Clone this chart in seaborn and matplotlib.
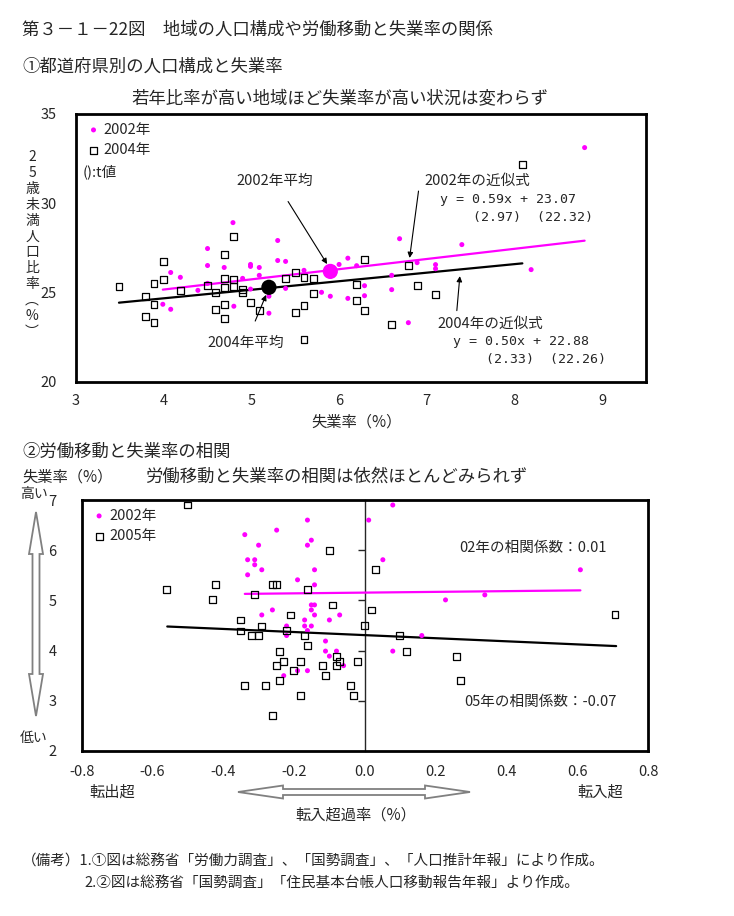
import matplotlib
matplotlib.use("Agg")
import matplotlib.pyplot as plt
from matplotlib.patches import Polygon
from matplotlib.ticker import FormatStrFormatter
import pandas as pd
import seaborn as sns

sns.set_style("white")
plt.rcParams['font.family'] = ['Noto Sans CJK JP', 'DejaVu Sans']
plt.rcParams['axes.unicode_minus'] = False

MAGENTA = '#FF00FF'
W, H = 734, 916

# ---- chart 1: unemployment rate vs. share of population under 25 ----
unemp_2002 = [4.79, 4.50, 5.30, 4.50, 4.69, 4.99, 4.99, 5.09, 5.30, 5.39, 4.08, 4.19,
              4.90, 5.09, 5.60, 6.00, 6.10, 4.39, 4.50, 5.20, 5.39, 5.80, 5.90, 6.10,
              3.99, 4.08, 4.80, 5.20, 4.99, 8.80, 6.69, 7.40, 6.20, 6.89, 7.10, 7.10,
              8.19, 6.60, 6.29, 6.60, 6.29, 6.79]
young_2002 = [28.92, 27.47, 27.92, 26.52, 26.41, 26.58, 26.47, 26.41, 26.80, 26.75, 26.13, 25.86,
              25.80, 25.97, 26.25, 26.58, 26.93, 25.13, 25.52, 24.80, 25.24, 25.02, 24.80, 24.68,
              24.35, 24.07, 24.24, 23.85, 25.20, 33.12, 28.02, 27.69, 26.51, 26.68, 26.57, 26.34,
              26.29, 25.97, 25.39, 25.17, 24.83, 23.32]
unemp_2004 = [3.49, 4.00, 3.89, 4.00, 3.79, 3.89, 3.79, 3.89, 4.19, 4.50, 4.59, 4.69,
              4.80, 4.69, 4.80, 4.69, 4.80, 4.90, 4.90, 4.59, 4.69, 4.69, 4.99, 5.09,
              5.39, 5.50, 5.60, 5.71, 5.71, 5.50, 5.60, 5.60, 8.09, 6.29, 6.79, 6.20,
              6.89, 6.20, 6.29, 7.10, 6.60]
young_2004 = [25.35, 26.75, 25.52, 25.74, 24.80, 24.35, 23.68, 23.35, 25.11, 25.41, 25.02, 27.14,
              28.14, 25.80, 25.74, 25.30, 25.35, 25.19, 25.02, 24.07, 24.35, 23.57, 24.46, 24.01,
              25.80, 26.13, 25.86, 25.80, 24.96, 23.90, 24.29, 22.40, 32.16, 26.85, 26.51, 25.45,
              25.39, 24.55, 23.99, 24.89, 23.21]
mean_2002 = (5.90, 26.19)
mean_2004 = (5.20, 25.30)
fit_2002_x, fit_2002_y = [3.99, 8.80], [25.17, 27.91]
fit_2004_x, fit_2004_y = [3.49, 8.09], [24.44, 26.64]

# ---- chart 2: net migration rate vs. unemployment rate ----
mig_2002 = [-0.162, -0.339, -0.249, -0.162, -0.151, -0.300, -0.331, -0.311, -0.311, -0.291,
            -0.142, -0.331, -0.190, -0.142, -0.151, -0.142, -0.151, -0.261, -0.291, -0.142,
            -0.071, -0.170, -0.100, -0.221, -0.170, -0.151, -0.162, -0.221, -0.111, -0.111,
            -0.080, -0.100, -0.060, -0.190, -0.162, -0.229, 0.011, 0.079, 0.051, 0.609,
            0.228, 0.339, 0.161, 0.079]
ur_2002 = [6.60, 6.31, 6.40, 6.10, 6.20, 6.10, 5.81, 5.81, 5.71, 5.61,
           5.61, 5.51, 5.41, 5.31, 4.91, 4.91, 4.81, 4.81, 4.71, 4.71,
           4.71, 4.61, 4.61, 4.49, 4.49, 4.49, 4.40, 4.30, 4.19, 3.99,
           3.99, 3.89, 3.70, 3.60, 3.60, 3.50, 6.60, 6.90, 5.81, 5.61,
           5.01, 5.11, 4.30, 3.99]
mig_2005 = [-0.500, -0.099, -0.560, -0.422, -0.430, -0.261, -0.249, -0.162, -0.311, -0.091,
            -0.210, -0.350, -0.291, -0.350, -0.221, -0.320, -0.300, -0.170, -0.162, -0.241,
            -0.229, -0.182, -0.249, -0.119, -0.080, -0.071, -0.080, -0.021, -0.201, -0.111,
            -0.241, -0.339, -0.280, -0.040, -0.182, -0.032, -0.261, 0.000, 0.030, 0.019,
            0.099, 0.118, 0.259, 0.270, 0.707]
ur_2005 = [6.90, 6.00, 5.21, 5.31, 5.01, 5.31, 5.31, 5.21, 5.11, 4.91,
           4.71, 4.61, 4.49, 4.39, 4.40, 4.30, 4.30, 4.30, 4.10, 3.99,
           3.79, 3.79, 3.70, 3.70, 3.89, 3.79, 3.70, 3.79, 3.60, 3.50,
           3.40, 3.30, 3.30, 3.30, 3.10, 3.10, 2.70, 4.50, 5.61, 4.81,
           4.30, 3.99, 3.89, 3.40, 4.72]
fit_02_x, fit_02_y = [-0.339, 0.609], [5.13, 5.20]
fit_05_x, fit_05_y = [-0.558, 0.710], [4.48, 4.09]

df1_02 = pd.DataFrame({'x': unemp_2002, 'y': young_2002})
df1_04 = pd.DataFrame({'x': unemp_2004, 'y': young_2004})
df2_02 = pd.DataFrame({'x': mig_2002, 'y': ur_2002})
df2_05 = pd.DataFrame({'x': mig_2005, 'y': ur_2005})

fig = plt.figure(figsize=(W / 100, H / 100), dpi=100)


def fpos(x, y):
    return x / W, 1 - y / H


def ftext(x, y, s, size=11, **kw):
    fig.text(*fpos(x, y), s, fontsize=size, va='center', **kw)


def hollow_arrow(x0, y0, x1, y1, head_len, head_w, shaft_w):
    # double-headed outline arrow, in figure pixels
    if y0 == y1:
        pts = [(x0, y0), (x0 + head_len, y0 - head_w), (x0 + head_len, y0 - shaft_w),
               (x1 - head_len, y0 - shaft_w), (x1 - head_len, y0 - head_w), (x1, y0),
               (x1 - head_len, y0 + head_w), (x1 - head_len, y0 + shaft_w),
               (x0 + head_len, y0 + shaft_w), (x0 + head_len, y0 + head_w)]
    else:
        pts = [(x0, y0), (x0 - head_w, y0 + head_len), (x0 - shaft_w, y0 + head_len),
               (x0 - shaft_w, y1 - head_len), (x0 - head_w, y1 - head_len), (x0, y1),
               (x0 + head_w, y1 - head_len), (x0 + shaft_w, y1 - head_len),
               (x0 + shaft_w, y0 + head_len), (x0 + head_w, y0 + head_len)]
    poly = Polygon([fpos(px, py) for px, py in pts], closed=True, transform=fig.transFigure,
                   facecolor='white', edgecolor='#808080', lw=1.3)
    fig.add_artist(poly)


def style_axes(ax):
    for sp in ax.spines.values():
        sp.set_visible(True)
        sp.set_color('black')
        sp.set_linewidth(2)
    ax.grid(False)
    ax.set_xlabel('')
    ax.set_ylabel('')


# ---------------- chart 1 ----------------
ax1 = fig.add_axes([76 / W, 1 - 382 / H, 570 / W, 268 / H])
sns.scatterplot(data=df1_02, x='x', y='y', ax=ax1, color=MAGENTA, marker='o', s=13,
                edgecolor='none', label='2002年', zorder=3)
sns.scatterplot(data=df1_04, x='x', y='y', ax=ax1, color='black', marker='s', s=24,
                facecolors='none', edgecolor='black', linewidth=0.9, label='2004年', zorder=3)
sns.lineplot(x=fit_2002_x, y=fit_2002_y, ax=ax1, color=MAGENTA, lw=1.6, zorder=2)
sns.lineplot(x=fit_2004_x, y=fit_2004_y, ax=ax1, color='black', lw=1.6, zorder=2)
sns.scatterplot(x=[mean_2002[0]], y=[mean_2002[1]], ax=ax1, color=MAGENTA, s=120,
                edgecolor='none', zorder=4)
sns.scatterplot(x=[mean_2004[0]], y=[mean_2004[1]], ax=ax1, color='black', s=120,
                edgecolor='none', zorder=4)
ax1.set_xlim(3, 9.5)
ax1.set_ylim(20, 35)
ax1.set_xticks(range(3, 10))
ax1.set_yticks([20, 25, 30, 35])
style_axes(ax1)
ax1.tick_params(axis='x', direction='in', length=4, width=1, labelsize=10.5, pad=9)
ax1.tick_params(axis='y', direction='in', length=4, width=1, labelsize=10.5, pad=14)
ax1.legend(loc='upper left', frameon=False, fontsize=10.5, handletextpad=0.1,
           borderaxespad=0.2, labelspacing=0.45, handlelength=1.2)
ax1.text(0.012, 0.785, '():t値', transform=ax1.transAxes, fontsize=10.5, va='center')

arrow_kw = dict(arrowstyle='-|>', color='black', lw=0.8, mutation_scale=8)
ax1.annotate('2002年平均', xy=(5.88, 26.47), xytext=(5.27, 31.27), ha='center', va='center',
             fontsize=10.5, arrowprops=dict(arrow_kw, shrinkA=9))
ax1.annotate('2004年平均', xy=(5.18, 25.02), xytext=(4.94, 22.19), ha='center', va='center',
             fontsize=10.5, arrowprops=dict(arrow_kw, shrinkA=9))
ax1.annotate('', xy=(6.80, 26.79), xytext=(6.91, 30.84), arrowprops=arrow_kw)
ax1.annotate('', xy=(7.38, 26.08), xytext=(7.34, 23.84), arrowprops=arrow_kw)
ax1.text(6.97, 31.27, '2002年の近似式', fontsize=10.5, va='center')
ax1.text(7.15, 30.22, 'y = 0.59x + 23.07', fontsize=9.5, va='center', family='DejaVu Sans Mono')
ax1.text(7.53, 29.22, '(2.97)  (22.32)', fontsize=9.5, va='center', family='DejaVu Sans Mono')
ax1.text(7.12, 23.28, '2004年の近似式', fontsize=10.5, va='center')
ax1.text(7.30, 22.26, 'y = 0.50x + 22.88', fontsize=9.5, va='center', family='DejaVu Sans Mono')
ax1.text(7.68, 21.27, '(2.33)  (22.26)', fontsize=9.5, va='center', family='DejaVu Sans Mono')

# ---------------- chart 2 ----------------
ax2 = fig.add_axes([81.6 / W, 1 - 751 / H, 566.4 / W, 251 / H])
sns.scatterplot(data=df2_02, x='x', y='y', ax=ax2, color=MAGENTA, marker='o', s=13,
                edgecolor='none', label='2002年', zorder=3)
sns.scatterplot(data=df2_05, x='x', y='y', ax=ax2, color='black', marker='s', s=24,
                facecolors='none', edgecolor='black', linewidth=0.9, label='2005年', zorder=3)
sns.lineplot(x=fit_02_x, y=fit_02_y, ax=ax2, color=MAGENTA, lw=1.6, zorder=2)
sns.lineplot(x=fit_05_x, y=fit_05_y, ax=ax2, color='black', lw=1.6, zorder=2)
ax2.set_xlim(-0.8, 0.8)
ax2.set_ylim(2, 7)
ax2.set_xticks([-0.8, -0.6, -0.4, -0.2, 0.0, 0.2, 0.4, 0.6, 0.8])
ax2.set_yticks([2, 3, 4, 5, 6, 7])
ax2.xaxis.set_major_formatter(FormatStrFormatter('%.1f'))
style_axes(ax2)
ax2.tick_params(axis='x', direction='in', length=4, width=1, labelsize=10.5, pad=10)
ax2.tick_params(axis='y', direction='in', length=0, labelsize=10.5, pad=18)
sec = ax2.secondary_yaxis(0.5)
sec.set_yticks([3, 4, 5, 6])
sec.tick_params(direction='in', length=5, width=1, labelleft=False, labelright=False)
sec.spines['left'].set_linewidth(1)
sec.spines['right'].set_linewidth(1)
ax2.legend(loc='upper left', frameon=False, fontsize=10.5, handletextpad=0.1,
           borderaxespad=0.2, labelspacing=0.45, handlelength=1.2)
ax2.text(0.268, 6.04, '02年の相関係数：0.01', fontsize=10.5, va='center')
ax2.text(0.280, 2.97, '05年の相関係数：-0.07', fontsize=10.5, va='center')

# ---------------- surrounding text ----------------
ftext(22, 30, '第３－１－22図　地域の人口構成や労働移動と失業率の関係', size=12.5)
ftext(22, 67, '①都道府県別の人口構成と失業率', size=12.5)
ftext(340, 98, '若年比率が高い地域ほど失業率が高い状況は変わらず', size=12.5, ha='center')
ylabel_chars = ['2', '5', '歳', '未', '満', '人', '口', '比', '率', '︵', '%', '︶']
for i, ch in enumerate(ylabel_chars):
    ftext(32, 157 + i * 15.9, ch, size=10, ha='center')
ftext(357, 422, '失業率（%）', size=11, ha='center')

ftext(22, 452, '②労働移動と失業率の相関', size=12.5)
ftext(22, 477, '失業率（%）', size=11)
ftext(145, 477, '労働移動と失業率の相関は依然ほとんどみられず', size=12.5)
ftext(20, 494, '高い', size=10)
ftext(20, 738, '低い', size=10)
hollow_arrow(36, 512, 36, 716, 42, 7, 3.5)
ftext(112, 792, '転出超', size=11, ha='center')
ftext(600, 792, '転入超', size=11, ha='center')
hollow_arrow(238, 792, 470, 792, 45, 6.5, 3)
ftext(356, 815, '転入超過率（%）', size=11, ha='center')

ftext(22, 862, '（備考）1.①図は総務省「労働力調査」、「国勢調査」、「人口推計年報」により作成。', size=10.5)
ftext(84, 883, '2.②図は総務省「国勢調査」「住民基本台帳人口移動報告年報」より作成。', size=10.5)

fig.savefig('out.png', dpi=100)
